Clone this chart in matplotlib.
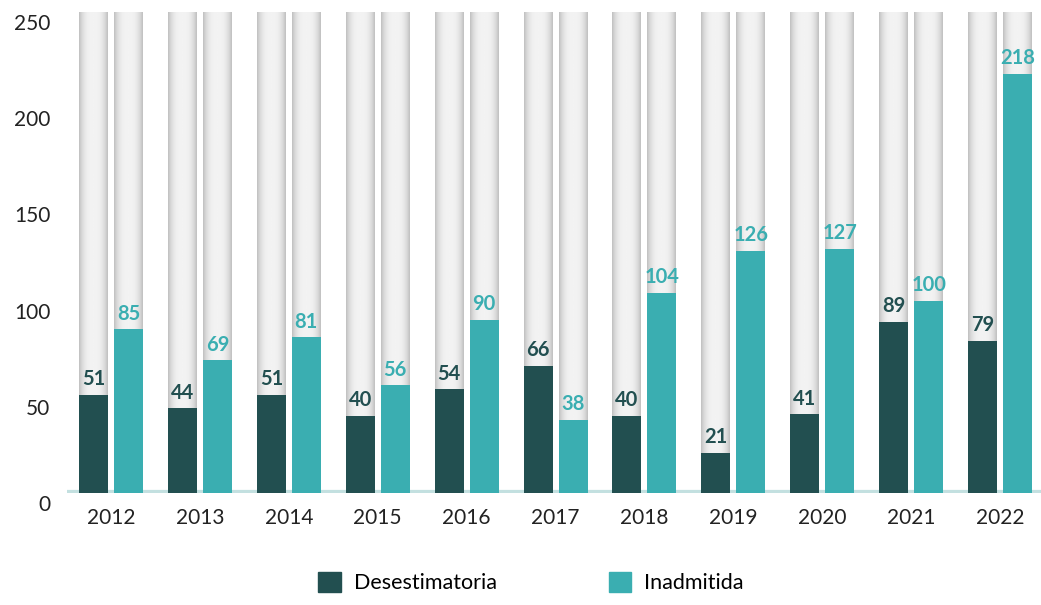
import numpy as np
import matplotlib
matplotlib.use('Agg')
import matplotlib.pyplot as plt
import matplotlib.transforms as mtransforms
from matplotlib.patches import Patch

years = ['2012', '2013', '2014', '2015', '2016', '2017', '2018', '2019', '2020', '2021', '2022']
desestimatoria = [51, 44, 51, 40, 54, 66, 40, 21, 41, 89, 79]
inadmitida = [85, 69, 81, 56, 90, 38, 104, 126, 127, 100, 218]
y_ticks = [0, 50, 100, 150, 200, 250]

DARK = '#224f50'
TEAL = '#3aaeb1'
BASE = '#c3e0e0'

plt.rcParams['font.family'] = ['Lato', 'DejaVu Sans']

fig = plt.figure(figsize=(10.41, 6.05), dpi=100)
ax = fig.add_axes([67 / 1041, 112 / 605, 974 / 1041, 481 / 605])

x = np.arange(len(years))
w = 0.326
off = 0.197
ymax = 250

# gray gradient background bars
t = np.linspace(-1, 1, 64)
grad = 0.95 - 0.2 * np.abs(t) ** 3
img = np.tile(grad, (2, 1))
for xi in x:
    for cx in (xi - off, xi + off):
        ax.imshow(img, extent=(cx - w / 2, cx + w / 2, 0, ymax), aspect='auto',
                  cmap='gray', vmin=0, vmax=1, zorder=1, interpolation='bicubic')

ax.axhline(0, color=BASE, linewidth=4.5, zorder=2)

ax.bar(x - off, desestimatoria, w, color=DARK, zorder=3)
ax.bar(x + off, inadmitida, w, color=TEAL, zorder=3)

for xi, v in zip(x, desestimatoria):
    ax.annotate(str(v), (xi - off, v), xytext=(0, 4), textcoords='offset points',
                ha='center', va='bottom', fontsize=14.5, fontweight='bold', color=DARK, zorder=4)
for xi, v in zip(x, inadmitida):
    ax.annotate(str(v), (xi + off, v), xytext=(0, 4), textcoords='offset points',
                ha='center', va='bottom', fontsize=14.5, fontweight='bold', color=TEAL, zorder=4)

ax.set_xlim(-0.495, 10.46)
ax.set_ylim(0, ymax)
ax.set_xticks(x)
ax.set_xticklabels(years, fontsize=15, color='#222222')
ax.set_yticks(y_ticks)
ax.set_yticklabels([str(v) for v in y_ticks], fontsize=15, color='#222222')
ax.tick_params(length=0)
ax.tick_params(axis='y', pad=12)
ax.tick_params(axis='x', pad=11)
for s in ax.spines.values():
    s.set_visible(False)

# y labels sit slightly below their gridline position in the original
shift = mtransforms.ScaledTranslation(0, -10 / 100, fig.dpi_scale_trans)
for lbl in ax.get_yticklabels():
    lbl.set_transform(lbl.get_transform() + shift)

handles = [Patch(color=DARK, label='Desestimatoria'), Patch(color=TEAL, label='Inadmitida')]
fig.legend(handles=handles, loc='lower center', bbox_to_anchor=(0.51, -0.012), ncol=2,
           frameon=False, fontsize=15.5, handlelength=1.05, handleheight=1.05,
           columnspacing=5.2, handletextpad=0.6)

fig.savefig('out.png', dpi=100)
